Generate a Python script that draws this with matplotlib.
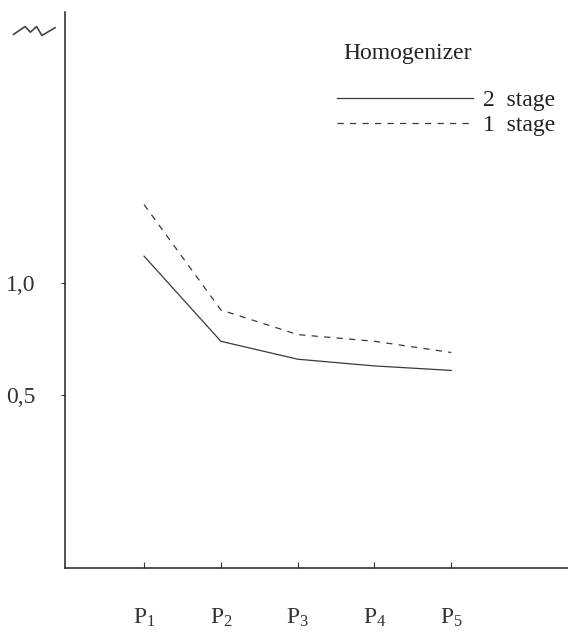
import numpy as np
import matplotlib
matplotlib.use('Agg')
import matplotlib.pyplot as plt

plt.rcParams['font.family'] = 'Liberation Serif'
plt.rcParams['mathtext.fontset'] = 'custom'
plt.rcParams['mathtext.rm'] = 'Liberation Serif'
plt.rcParams['mathtext.it'] = 'Liberation Serif'

# data
points = ['P$_1$', 'P$_2$', 'P$_3$', 'P$_4$', 'P$_5$']
stage2 = [1.12, 0.74, 0.66, 0.63, 0.61]
stage1 = [1.35, 0.88, 0.77, 0.74, 0.69]
yticks = [0.5, 1.0]
ylabels = ['0,5', '1,0']

x = np.arange(1, len(points) + 1)

fig = plt.figure(figsize=(5.68, 6.32), dpi=100)
ax = fig.add_axes([0.1144, 0.1013, 0.8856, 0.8797])

ax.plot(x, stage2, color='#3a3a3a', lw=0.9, label='2  stage')
ax.plot(x, stage1, color='#3a3a3a', lw=0.9, ls=(0, (5, 5)), label='1  stage')

ax.set_xlim(-0.03, 6.52)
ax.set_ylim(-0.272, 2.21)

ax.spines['top'].set_visible(False)
ax.spines['right'].set_visible(False)
for s in ['left', 'bottom']:
    ax.spines[s].set_linewidth(1.2)
    ax.spines[s].set_color('#333333')

ax.set_xticks(x)
ax.set_xticklabels(points, fontsize=17)
ax.tick_params(axis='x', direction='in', length=4, pad=28, colors='#333333')
ax.set_yticks(yticks)
ax.set_yticklabels(ylabels, fontsize=17)
ax.tick_params(axis='y', direction='out', length=3, pad=18, colors='#333333')

# axis break mark in top-left corner
ax.plot([-0.70, -0.55, -0.48, -0.40, -0.33, -0.16], [2.11, 2.145, 2.12, 2.145, 2.105, 2.14],
        color='#444444', lw=1.2, clip_on=False)

ax.text(0.553, 0.925, 'Homogenizer', transform=ax.transAxes, fontsize=17,
        ha='left', va='center', color='#222222')
leg = ax.legend(loc='upper left', bbox_to_anchor=(0.541, 0.861),
                frameon=False, fontsize=17, handlelength=5.75, borderpad=0,
                borderaxespad=0, handletextpad=0.42, labelspacing=0.15)
for t in leg.get_texts():
    t.set_color('#222222')

fig.savefig('out.png', dpi=100)
